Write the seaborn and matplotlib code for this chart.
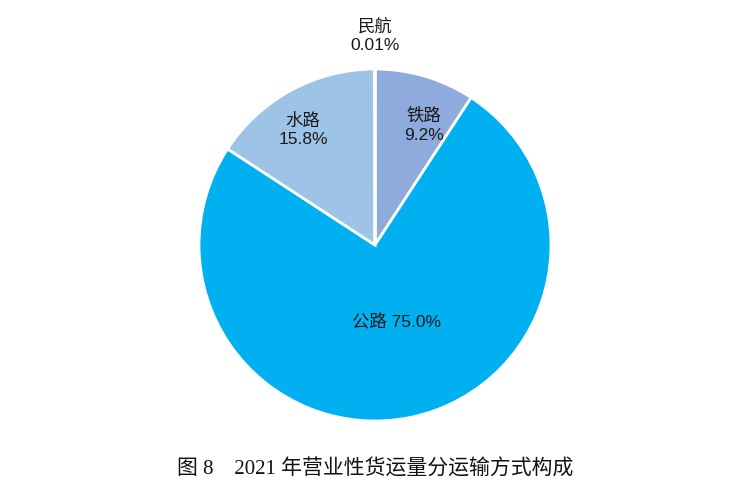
import numpy as np
import matplotlib
matplotlib.use("Agg")
import matplotlib.pyplot as plt
import seaborn as sns

sns.set_theme(style="white")
plt.rcParams['font.family'] = ['Liberation Sans', 'Noto Sans CJK SC', 'DejaVu Sans']

categories = ["铁路", "公路", "水路", "民航"]
shares = [9.2, 75.0, 15.8, 0.01]
pct_labels = ["9.2%", "75.0%", "15.8%", "0.01%"]
colors = ["#8faadc", "#00b0f0", "#9dc3e6", "#7f7f7f"]
title = "图 8　2021 年营业性货运量分运输方式构成"

fig = plt.figure(figsize=(7.53, 5.0), dpi=100)
fig.patch.set_facecolor("white")
R = 176
cx, cy = 375, 245
ax = fig.add_axes([(cx - R) / 753, (500 - cy - R) / 500, 2 * R / 753, 2 * R / 500])
wedges, _ = ax.pie(shares, colors=colors, startangle=90, counterclock=False,
                   wedgeprops=dict(edgecolor="white", linewidth=2.0), radius=1.0)
ax.set_xlim(-1, 1)
ax.set_ylim(-1, 1)
ax.axis("off")

radii = [0.735, 0.455, 0.77, 1.19]
angle_shift = [-5.5, 4.0, 3.6, 0.0]
for i, w in enumerate(wedges):
    th = np.deg2rad((w.theta1 + w.theta2) / 2 + angle_shift[i])
    r = radii[i]
    x, y = r * np.cos(th), r * np.sin(th)
    if categories[i] == "民航":
        x, y = 0.0, r
    if categories[i] == "公路":
        txt = f"{categories[i]} {pct_labels[i]}"
    else:
        txt = f"{categories[i]}\n{pct_labels[i]}"
    ax.text(x, y, txt, ha="center", va="center", fontsize=12.5,
            color="#1a1a1a", linespacing=1.3)

fig.text(375 / 753, 1 - 470 / 500, title, ha="center", va="center",
         fontsize=15, fontweight="medium",
         family=['Liberation Serif', 'Noto Sans CJK SC', 'DejaVu Sans'], color="#111111")

fig.savefig("out.png", dpi=100, facecolor="white")
